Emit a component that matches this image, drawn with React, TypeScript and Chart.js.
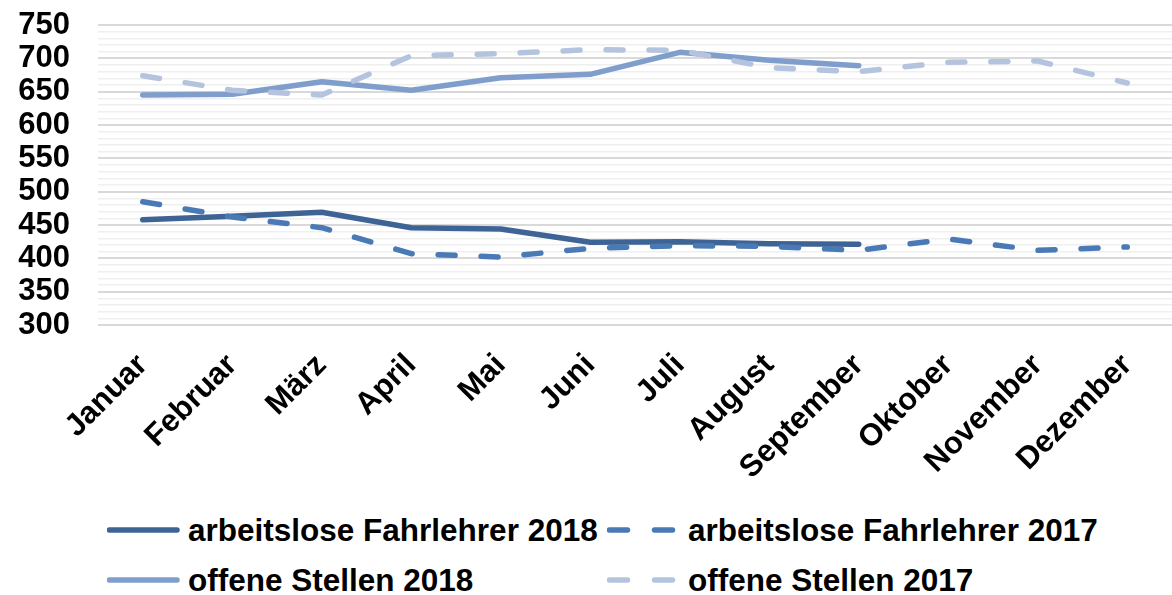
import React, { useEffect, useRef } from "react";
import { Chart, registerables } from "chart.js";

Chart.register(...registerables);

const months = ["Januar", "Februar", "März", "April", "Mai", "Juni", "Juli", "August", "September", "Oktober", "November", "Dezember"];
const arbeitslose2018 = [458, 463, 469, 446, 444, 424, 425, 422, 421, null, null, null];
const arbeitslose2017 = [485, 462, 446, 407, 402, 415, 419, 418, 412, 429, 412, 417];
const offene2018 = [645, 646, 665, 652, 671, 676, 709, 697, 689, null, null, null];
const offene2017 = [674, 652, 645, 704, 707, 713, 712, 686, 680, 694, 696, 663];
const yMin = 300;
const yMax = 750;
const yMajorStep = 50;
const yMinorStep = 10;

const seriesNames = ["arbeitslose Fahrlehrer 2018", "arbeitslose Fahrlehrer 2017", "offene Stellen 2018", "offene Stellen 2017"];
const seriesColors = ["#3e6496", "#4a7ab5", "#7f9ecc", "#b4c4de"];
const seriesDashed = [false, true, false, true];

const FONT = "'Liberation Sans', Arial, sans-serif";

function LegendSymbol({ color, dashed }: { color: string; dashed: boolean }) {
  return (
    <svg width={74} height={10} style={{ display: "block" }}>
      {dashed ? (
        <line x1={2.5} y1={5} x2={65.5} y2={5} stroke={color} strokeWidth={5.5} strokeLinecap="round" strokeDasharray="18 27" />
      ) : (
        <line x1={2.5} y1={5} x2={70} y2={5} stroke={color} strokeWidth={5.5} strokeLinecap="round" />
      )}
    </svg>
  );
}

export default function App() {
  const canvasRef = useRef<HTMLCanvasElement | null>(null);

  useEffect(() => {
    if (!canvasRef.current) return;
    const data = [arbeitslose2018, arbeitslose2017, offene2018, offene2017];
    const chart = new Chart(canvasRef.current, {
      type: "line",
      data: {
        labels: months,
        datasets: data.map((d, i) => ({
          label: seriesNames[i],
          data: d,
          borderColor: seriesColors[i],
          backgroundColor: seriesColors[i],
          borderWidth: 5.5,
          borderDash: seriesDashed[i] ? [17, 26] : [],
          borderCapStyle: "round",
          borderJoinStyle: "round",
          pointRadius: 0,
          pointHoverRadius: 0,
          tension: 0,
          fill: false,
          spanGaps: false,
          order: seriesDashed[i] ? 0 : 1,
        })),
      },
      options: {
        responsive: false,
        animation: false,
        layout: { padding: { top: 25, left: 0, right: 0, bottom: 0 } },
        plugins: {
          legend: { display: false },
          tooltip: { enabled: false },
        },
        scales: {
          x: {
            offset: true,
            grid: { display: false },
            border: { display: false },
            ticks: {
              color: "#000",
              font: { family: FONT, size: 31, weight: "bold" },
              minRotation: 45,
              maxRotation: 45,
              padding: 14,
              autoSkip: false,
            },
            afterFit: (scale: any) => {
              scale.height = 170;
            },
          },
          y: {
            min: yMin,
            max: yMax,
            border: { display: false },
            grid: {
              drawTicks: false,
              color: (ctx: any) => (ctx.tick && ctx.tick.value % yMajorStep === 0 ? "#d9d9d9" : "#efefef"),
              lineWidth: (ctx: any) => (ctx.tick && ctx.tick.value % yMajorStep === 0 ? 2 : 1.5),
            },
            ticks: {
              stepSize: yMinorStep,
              autoSkip: false,
              color: "#000",
              padding: 28,
              font: { family: FONT, size: 31, weight: "bold" },
              callback: (v: any) => (Number(v) % yMajorStep === 0 ? String(v) : ""),
            },
            afterFit: (scale: any) => {
              scale.width = 98;
              scale.paddingTop = 0;
              scale.paddingBottom = 0;
            },
          },
        },
      },
    });
    return () => chart.destroy();
  }, []);

  const legendPos = [
    { sx: 107, tx: 188, y: 530 },
    { sx: 607, tx: 688, y: 530 },
    { sx: 107, tx: 188, y: 580 },
    { sx: 607, tx: 688, y: 580 },
  ];

  return (
    <div style={{ position: "absolute", left: 0, top: 0, width: 1172, height: 595, background: "#fff", overflow: "hidden" }}>
      <canvas ref={canvasRef} width={1172} height={495} style={{ position: "absolute", left: 0, top: 0 }} />
      {seriesNames.map((name, i) => (
        <React.Fragment key={name}>
          <div style={{ position: "absolute", left: legendPos[i].sx, top: legendPos[i].y - 5 }}>
            <LegendSymbol color={seriesColors[i]} dashed={seriesDashed[i]} />
          </div>
          <div
            style={{
              position: "absolute",
              left: legendPos[i].tx,
              top: legendPos[i].y - 18,
              fontFamily: FONT,
              fontWeight: "bold",
              fontSize: 31.5,
              lineHeight: "36px",
              height: 36,
              whiteSpace: "nowrap",
              color: "#000",
            }}
          >
            {name}
          </div>
        </React.Fragment>
      ))}
    </div>
  );
}
